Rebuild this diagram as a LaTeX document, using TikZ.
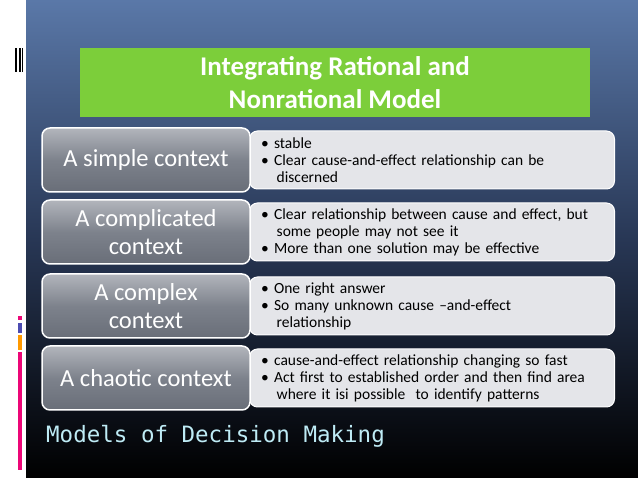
\documentclass[tikz,border=0pt]{standalone}
\usepackage{fontspec}
\setmainfont{Carlito}
\setmonofont{DejaVu Sans Mono}
\begin{document}
\begin{tikzpicture}[x=1pt,y=-1pt,
 lbox/.style={draw=white,line width=1.5pt,rounded corners=8pt,top color={rgb,255:red,178;green,181;blue,188},bottom color={rgb,255:red,105;green,110;blue,120},middle color={rgb,255:red,125;green,130;blue,140},text=white,font=\fontsize{24.5}{28}\selectfont,align=center,minimum width=208pt,minimum height=64pt,inner sep=0pt},
 rbox/.style={draw=white,line width=1pt,rounded corners=8pt,fill={rgb,255:red,228;green,229;blue,233},minimum width=365pt,minimum height=58pt,inner sep=0pt},
 rtxt/.style={anchor=west,text width=345pt,font=\fontsize{15.5}{17}\selectfont,align=left,inner sep=0pt}]
\useasboundingbox (0,0) rectangle (638,478);
\fill[white] (0,0) rectangle (638,478);
\shade[top color={rgb,255:red,90;green,120;blue,168},bottom color=black,middle color={rgb,255:red,40;green,55;blue,85}] (26,0) rectangle (638,478);
\fill[black] (15,48) rectangle (17,72);\fill[black] (19,48) rectangle (21,72);\fill[black] (22,48) rectangle (23,72);
\fill[magenta!80!red] (18,316) rectangle (22,320);
\fill[gray!60!blue] (18,323) rectangle (22,333);
\fill[orange!80!yellow] (18,335) rectangle (22,350);
\fill[magenta!80!red] (18,352) rectangle (22,470);
\node[fill={rgb,255:red,124;green,206;blue,58},minimum width=510pt,minimum height=69pt,text=white,font=\bfseries\fontsize{27}{33}\selectfont,align=center] (title) at (335,83) {Integrating Rational and\\Nonrational Model};
\foreach \i/\y/\l in {1/160/{A simple context},2/232/{A complicated\\context},3/306/{A complex\\context},4/378/{A chaotic context}}{
 \node[rbox] (r\i) at (432,\y) {};
 \node[lbox] (l\i) at (146,\y) {\l};
}
\node[rtxt] (t1) at ([xshift=12pt]r1.west) {\textbullet\ stable\\\textbullet\ Clear cause-and-effect relationship can be\\\hspace*{1em}discerned};
\node[rtxt] (t2) at ([xshift=12pt]r2.west) {\textbullet\ Clear relationship between cause and effect, but\\\hspace*{1em}some people may not see it\\\textbullet\ More than one solution may be effective};
\node[rtxt] (t3) at ([xshift=12pt]r3.west) {\textbullet\ One right answer\\\textbullet\ So many unknown cause --and-effect\\\hspace*{1em}relationship};
\node[rtxt] (t4) at ([xshift=12pt]r4.west) {\textbullet\ cause-and-effect relationship changing so fast\\\textbullet\ Act first to established order and then find area\\\hspace*{1em}where it isi possible\ \ to identify patterns};
\node[anchor=west,text={rgb,255:red,190;green,235;blue,245},font=\ttfamily\fontsize{22.5}{26}\selectfont,inner sep=0pt] (foot) at (46,436) {Models of Decision Making};
\end{tikzpicture}
\end{document}
